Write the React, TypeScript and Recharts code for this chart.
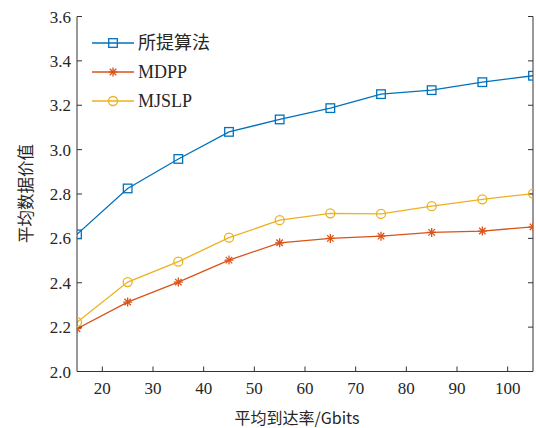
import React from 'react';
import { LineChart, Line, XAxis, YAxis, Legend } from 'recharts';

const xValues = [15, 25, 35, 45, 55, 65, 75, 85, 95, 105];
const proposed = [2.618, 2.825, 2.958, 3.08, 3.136, 3.187, 3.25, 3.268, 3.304, 3.333];
const mdpp = [2.193, 2.313, 2.403, 2.502, 2.58, 2.6, 2.61, 2.627, 2.633, 2.652];
const mjslp = [2.222, 2.403, 2.495, 2.603, 2.682, 2.713, 2.71, 2.745, 2.776, 2.802];
const xTicks = [20, 30, 40, 50, 60, 70, 80, 90, 100];
const yTicks = [2.0, 2.2, 2.4, 2.6, 2.8, 3.0, 3.2, 3.4, 3.6];
const seriesNames = ['所提算法', 'MDPP', 'MJSLP'];
const colors = ['#0072BD', '#D95319', '#EDB120'];

const data = xValues.map((x, i) => ({ x, a: proposed[i], b: mdpp[i], c: mjslp[i] }));

const FONT = 'Liberation Serif';
const CJK = 'Noto Sans CJK SC';
const AXIS = '#333';
const TXT = '#262626';

const Square = (props: any) => {
  const { cx, cy, stroke } = props;
  if (cx == null || cy == null) return null;
  return <rect x={cx - 4.3} y={cy - 4.3} width={8.6} height={8.6} fill="none" stroke={stroke} strokeWidth={1.3} />;
};
const Star = (props: any) => {
  const { cx, cy, stroke } = props;
  if (cx == null || cy == null) return null;
  const r = 4.5;
  const d = r * 0.72;
  return (
    <g stroke={stroke} strokeWidth={1.3}>
      <line x1={cx - r} y1={cy} x2={cx + r} y2={cy} />
      <line x1={cx} y1={cy - r} x2={cx} y2={cy + r} />
      <line x1={cx - d} y1={cy - d} x2={cx + d} y2={cy + d} />
      <line x1={cx - d} y1={cy + d} x2={cx + d} y2={cy - d} />
    </g>
  );
};
const Circle = (props: any) => {
  const { cx, cy, stroke } = props;
  if (cx == null || cy == null) return null;
  return <circle cx={cx} cy={cy} r={4.5} fill="none" stroke={stroke} strokeWidth={1.3} />;
};
const markers = [Square, Star, Circle];

const LegendBox = () => (
  <svg width={200} height={100} style={{ position: 'absolute', left: 0, top: 0, overflow: 'visible' }}>
    {seriesNames.map((name, i) => {
      const y = 43 + i * 29;
      const M = markers[i];
      return (
        <g key={name}>
          <line x1={92} y1={y} x2={134} y2={y} stroke={colors[i]} strokeWidth={1.3} />
          <M cx={113} cy={y} stroke={colors[i]} />
          <text x={138} y={y} dy="0.35em" fontSize={18} fontFamily={i === 0 ? CJK : FONT} fill={TXT}>{name}</text>
        </g>
      );
    })}
  </svg>
);

const SerifTick = (props: any) => {
  const { x, y, payload, textAnchor, fmt, dy } = props;
  return (
    <text x={x} y={y} dy={dy} textAnchor={textAnchor} fontSize={17} fontFamily={FONT} fill={TXT}>
      {fmt ? fmt(payload.value) : payload.value}
    </text>
  );
};

export default function App() {
  return (
    <div style={{ position: 'absolute', left: 0, top: 0 }}>
      <LineChart width={536} height={428} data={data} margin={{ top: 16.5, right: 2, bottom: 0, left: 0 }}>
        <XAxis
          xAxisId="bottom"
          dataKey="x"
          type="number"
          domain={[15, 105]}
          ticks={xTicks}
          allowDataOverflow
          height={56.5}
          tickSize={-5}
          tickMargin={15.5}
          stroke={AXIS}
          tick={(p: any) => <SerifTick {...p} dy="0.71em" />}
          label={{
            content: () => (
              <text x={297} y={424} textAnchor="middle" fontSize={16} fill={TXT} fontFamily={CJK}>平均到达率/Gbits</text>
            ),
          }}
        />
        <XAxis
          xAxisId="top"
          orientation="top"
          dataKey="x"
          type="number"
          domain={[15, 105]}
          ticks={xTicks}
          allowDataOverflow
          height={0}
          tickSize={-5}
          stroke={AXIS}
          tickFormatter={() => ''}
        />
        <YAxis
          yAxisId="left"
          type="number"
          domain={[2.0, 3.6]}
          ticks={yTicks}
          allowDataOverflow
          width={77}
          tickSize={-5}
          tickMargin={11}
          stroke={AXIS}
          tick={(p: any) => <SerifTick {...p} dy="0.355em" fmt={(v: number) => v.toFixed(1)} />}
          label={{
            content: () => (
              <text x={25} y={193.5} transform="rotate(-90 25 193.5)" textAnchor="middle" dominantBaseline="central" fontSize={16.5} fill={TXT} fontFamily={CJK}>平均数据价值</text>
            ),
          }}
        />
        <YAxis
          yAxisId="right"
          orientation="right"
          type="number"
          domain={[2.0, 3.6]}
          ticks={yTicks}
          allowDataOverflow
          width={1}
          tickSize={-5}
          stroke={AXIS}
          tickFormatter={() => ''}
        />
        <Legend layout="vertical" align="center" verticalAlign="middle" wrapperStyle={{ left: 0, top: 0, width: 1, height: 1 }} content={() => <LegendBox />} />
        {(['a', 'b', 'c'] as const).map((k, i) => {
          const M = markers[i];
          return (
            <Line
              key={k}
              xAxisId="bottom"
              yAxisId="left"
              dataKey={k}
              name={seriesNames[i]}
              stroke={colors[i]}
              strokeWidth={1.3}
              dot={(p: any) => <M key={p.index} cx={p.cx} cy={p.cy} stroke={colors[i]} />}
              activeDot={false}
              isAnimationActive={false}
            />
          );
        })}
      </LineChart>
    </div>
  );
}
